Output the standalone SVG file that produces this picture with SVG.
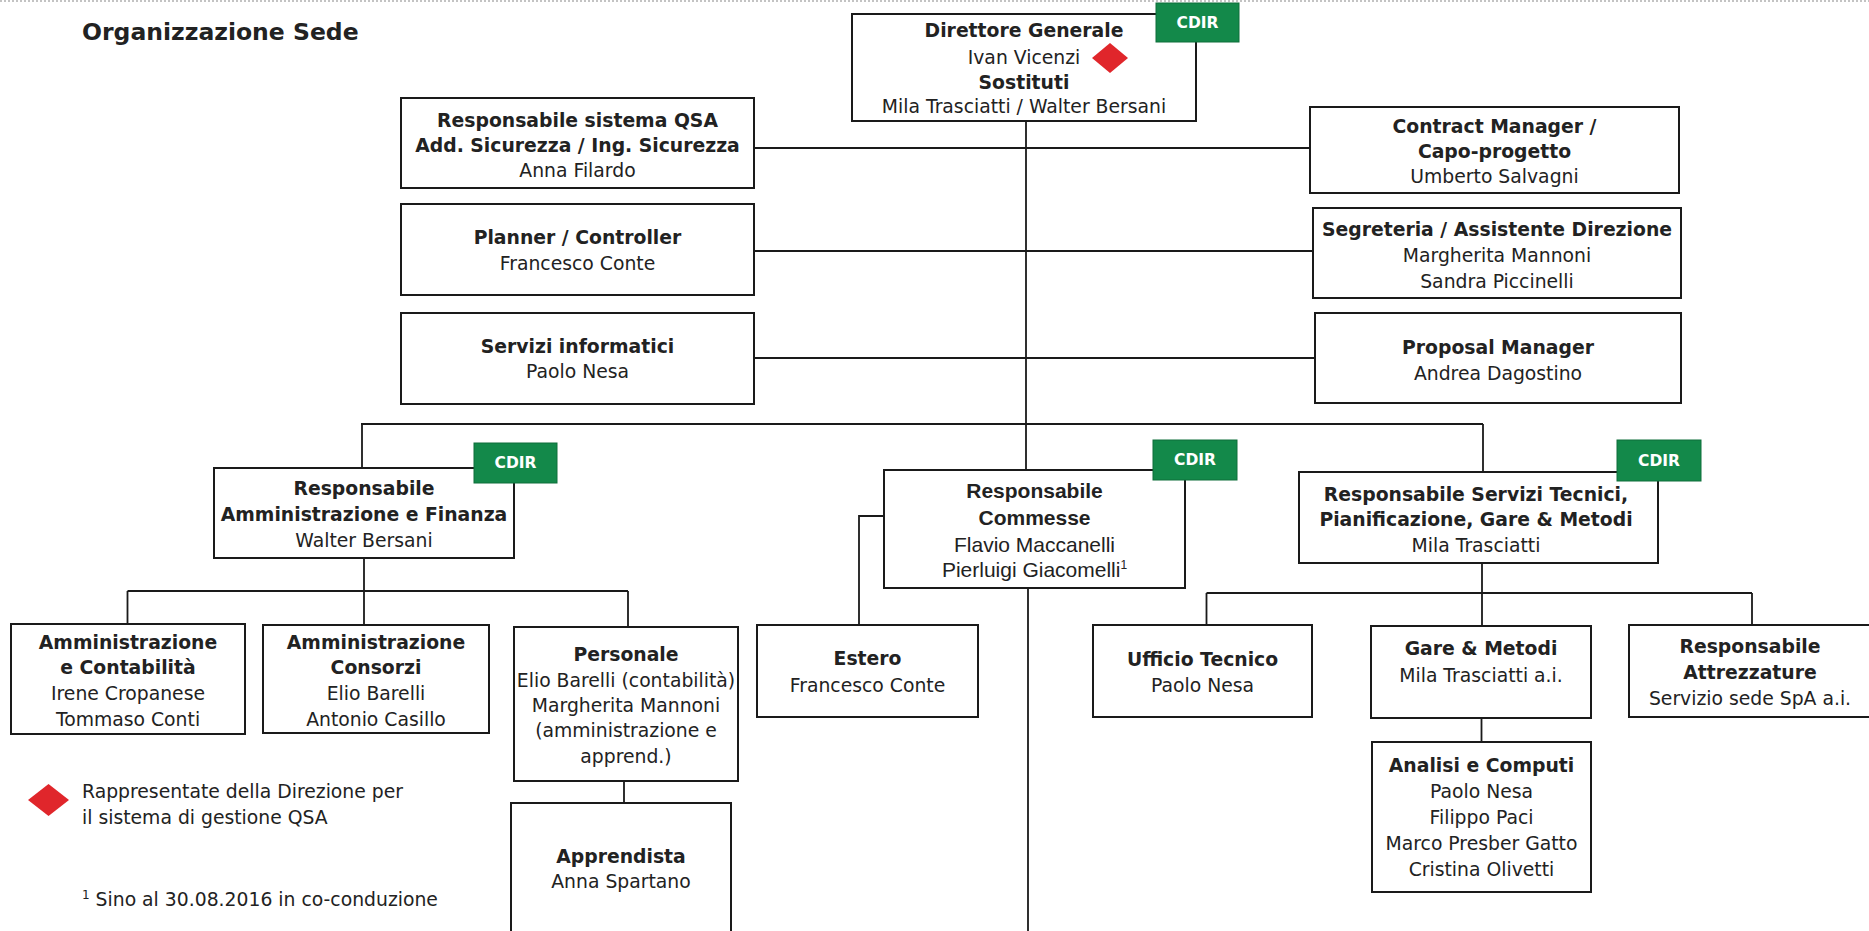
<svg xmlns="http://www.w3.org/2000/svg" width="1869" height="931" viewBox="0 0 1869 931">
<style>
.box{fill:#fff;stroke:#1a1a1a;stroke-width:2}
.ln{fill:none;stroke:#1a1a1a;stroke-width:1.8}
.t{font-family:"DejaVu Sans",Verdana,sans-serif;font-size:18.8px;fill:#222;text-anchor:middle}
.b{font-weight:bold}
.a{font-family:"Liberation Sans",Arial,sans-serif;font-size:21px;fill:#222;text-anchor:middle}
.cd{fill:#13894a;stroke:#0e6e3a;stroke-width:1}
.cdt{font-family:"DejaVu Sans",Verdana,sans-serif;font-size:15.5px;font-weight:bold;fill:#fff;text-anchor:middle}
.dia{fill:#e0262b}
.lg{font-family:"DejaVu Sans",Verdana,sans-serif;font-size:18.8px;fill:#222}
</style>
<rect x="0" y="0" width="1869" height="931" fill="#fff"/>
<line x1="0" y1="1" x2="1869" y2="1" stroke="#b0b0b0" stroke-width="1.5" stroke-dasharray="2 2"/>
<text x="82" y="40" font-family="DejaVu Sans,Verdana,sans-serif" font-size="23.5" font-weight="bold" fill="#222">Organizzazione Sede</text>

<g id="connectors">
<path class="ln" d="M1026 121V470M1028 588V931"/>
<path class="ln" d="M754 148H1310M754 251H1313M754 358H1315"/>
<path class="ln" d="M361 424H1483M362 424V468M1483 424V472"/>
<path class="ln" d="M364 558V625M127.5 591H628M127.5 591V624M628 591V627M624 781V803"/>
<path class="ln" d="M884 516H859V625"/>
<path class="ln" d="M1482 563V626M1206.5 593H1752M1206.5 593V625M1752 593V625M1481.5 718V742"/>
</g>

<g id="direttore">
<rect class="box" x="852" y="14" width="344" height="107"/>
<text class="t b" x="1024" y="37">Direttore Generale</text>
<text class="t" x="1024" y="64">Ivan Vicenzi</text>
<polygon class="dia" points="1110,43 1128,58 1110,73 1092,58"/>
<text class="t b" x="1024" y="89">Sostituti</text>
<text class="t" x="1024" y="113">Mila Trasciatti / Walter Bersani</text>
<rect class="cd" x="1156" y="3" width="83" height="39"/>
<text class="cdt" x="1197.5" y="28">CDIR</text>
</g>

<g id="qsa">
<rect class="box" x="401" y="98" width="353" height="90"/>
<text class="t b" x="577.5" y="127">Responsabile sistema QSA</text>
<text class="t b" x="577.5" y="152">Add. Sicurezza / Ing. Sicurezza</text>
<text class="t" x="577.5" y="177">Anna Filardo</text>
</g>

<g id="contract">
<rect class="box" x="1310" y="107" width="369" height="86"/>
<text class="t b" x="1494.5" y="133">Contract Manager /</text>
<text class="t b" x="1494.5" y="158">Capo-progetto</text>
<text class="t" x="1494.5" y="183">Umberto Salvagni</text>
</g>

<g id="planner">
<rect class="box" x="401" y="204" width="353" height="91"/>
<text class="t b" x="577.5" y="244">Planner / Controller</text>
<text class="t" x="577.5" y="270">Francesco Conte</text>
</g>

<g id="segreteria">
<rect class="box" x="1313" y="208" width="368" height="90"/>
<text class="t b" x="1497" y="236">Segreteria / Assistente Direzione</text>
<text class="t" x="1497" y="262">Margherita Mannoni</text>
<text class="t" x="1497" y="288">Sandra Piccinelli</text>
</g>

<g id="servizi">
<rect class="box" x="401" y="313" width="353" height="91"/>
<text class="t b" x="577.5" y="353">Servizi informatici</text>
<text class="t" x="577.5" y="378">Paolo Nesa</text>
</g>

<g id="proposal">
<rect class="box" x="1315" y="313" width="366" height="90"/>
<text class="t b" x="1498" y="354">Proposal Manager</text>
<text class="t" x="1498" y="380">Andrea Dagostino</text>
</g>

<g id="amministrazione">
<rect class="box" x="214" y="468" width="300" height="90"/>
<text class="t b" x="364" y="495">Responsabile</text>
<text class="t b" x="364" y="521">Amministrazione e Finanza</text>
<text class="t" x="364" y="547">Walter Bersani</text>
<rect class="cd" x="474" y="443" width="83" height="40"/>
<text class="cdt" x="515.5" y="468">CDIR</text>
</g>

<g id="commesse">
<rect class="box" x="884" y="470" width="301" height="118"/>
<text class="a b" x="1034.5" y="498">Responsabile</text>
<text class="a b" x="1034.5" y="525">Commesse</text>
<text class="a" x="1034.5" y="552">Flavio Maccanelli</text>
<text class="a" x="1034.5" y="577">Pierluigi Giacomelli<tspan font-size="12" dy="-8">1</tspan></text>
<rect class="cd" x="1153" y="440" width="84" height="40"/>
<text class="cdt" x="1195" y="465">CDIR</text>
</g>

<g id="tecnici">
<rect class="box" x="1299" y="472" width="359" height="91"/>
<text class="t b" x="1476" y="501">Responsabile Servizi Tecnici,</text>
<text class="t b" x="1476" y="526">Pianificazione, Gare &amp; Metodi</text>
<text class="t" x="1476" y="552">Mila Trasciatti</text>
<rect class="cd" x="1617" y="440" width="84" height="41"/>
<text class="cdt" x="1659" y="466">CDIR</text>
</g>

<g id="contabilita">
<rect class="box" x="11" y="624" width="234" height="110"/>
<text class="t b" x="128" y="649">Amministrazione</text>
<text class="t b" x="128" y="674">e Contabilità</text>
<text class="t" x="128" y="700">Irene Cropanese</text>
<text class="t" x="128" y="726">Tommaso Conti</text>
</g>

<g id="consorzi">
<rect class="box" x="263" y="625" width="226" height="108"/>
<text class="t b" x="376" y="649">Amministrazione</text>
<text class="t b" x="376" y="674">Consorzi</text>
<text class="t" x="376" y="700">Elio Barelli</text>
<text class="t" x="376" y="726">Antonio Casillo</text>
</g>

<g id="personale">
<rect class="box" x="514" y="627" width="224" height="154"/>
<text class="t b" x="626" y="661">Personale</text>
<text class="t" x="626" y="687">Elio Barelli (contabilità)</text>
<text class="t" x="626" y="712">Margherita Mannoni</text>
<text class="t" x="626" y="737">(amministrazione e</text>
<text class="t" x="626" y="763">apprend.)</text>
</g>

<g id="apprendista">
<rect class="box" x="511" y="803" width="220" height="140"/>
<text class="t b" x="621" y="863">Apprendista</text>
<text class="t" x="621" y="888">Anna Spartano</text>
</g>

<g id="estero">
<rect class="box" x="757" y="625" width="221" height="92"/>
<text class="t b" x="867.5" y="665">Estero</text>
<text class="t" x="867.5" y="692">Francesco Conte</text>
</g>

<g id="ufficio">
<rect class="box" x="1093" y="625" width="219" height="92"/>
<text class="t b" x="1202.5" y="666">Ufficio Tecnico</text>
<text class="t" x="1202.5" y="692">Paolo Nesa</text>
</g>

<g id="gare">
<rect class="box" x="1371" y="626" width="220" height="92"/>
<text class="t b" x="1481" y="655">Gare &amp; Metodi</text>
<text class="t" x="1481" y="682">Mila Trasciatti a.i.</text>
</g>

<g id="attrezzature">
<rect class="box" x="1629" y="625" width="260" height="92"/>
<text class="t b" x="1750" y="653">Responsabile</text>
<text class="t b" x="1750" y="679">Attrezzature</text>
<text class="t" x="1750" y="705">Servizio sede SpA a.i.</text>
</g>

<g id="analisi">
<rect class="box" x="1372" y="742" width="219" height="150"/>
<text class="t b" x="1481.5" y="772">Analisi e Computi</text>
<text class="t" x="1481.5" y="798">Paolo Nesa</text>
<text class="t" x="1481.5" y="824">Filippo Paci</text>
<text class="t" x="1481.5" y="850">Marco Presber Gatto</text>
<text class="t" x="1481.5" y="876">Cristina Olivetti</text>
</g>

<g id="legenda">
<polygon class="dia" points="48.5,784 69,800 48.5,816 28,800"/>
<text class="lg" x="82" y="798">Rappresentate della Direzione per</text>
<text class="lg" x="82" y="824">il sistema di gestione QSA</text>
<text class="lg" x="82" y="906"><tspan font-size="12" dy="-7">1</tspan><tspan dy="7"> Sino al 30.08.2016 in co-conduzione</tspan></text>
</g>
</svg>
